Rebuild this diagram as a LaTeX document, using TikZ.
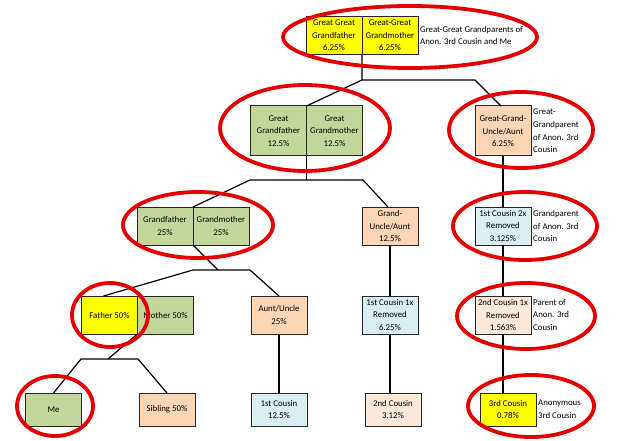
\documentclass[tikz,border=0pt]{standalone}
\usepackage{fontspec}
\setmainfont{Carlito}
\usetikzlibrary{positioning}
\definecolor{hiyel}{RGB}{255,255,0}
\definecolor{olivegrn}{RGB}{196,215,155}
\definecolor{peach}{RGB}{252,213,180}
\definecolor{palepeach}{RGB}{253,233,217}
\definecolor{iceblue}{RGB}{218,238,243}
\definecolor{ringred}{RGB}{228,0,0}

\begin{document}
\begin{tikzpicture}[
          x=1pt, y=-1pt,
          pers/.style={draw=black!85, line width=1pt, align=center, inner sep=1pt,
            outer sep=0pt, minimum width=56pt, font=\fontsize{8.8}{12.6}\selectfont},
          tall/.style={pers, minimum height=50pt},
          mid/.style={pers, minimum height=38pt},
          short/.style={pers, minimum height=33pt},
          note/.style={anchor=west, align=left, inner sep=2pt,
            font=\fontsize{8.8}{12.6}\selectfont},
          ring/.style={draw=ringred, line width=3.8pt},
          link/.style={draw=black, line width=1.2pt},
          node distance=0pt
        ]
        \useasboundingbox (0,0) rectangle (640,441);
        % great-great grandparents
        \node[mid, fill=hiyel] (ggfa) at (334,35.5) {Great Great\\Grandfather\\6.25\%};
        \node[mid, fill=hiyel] (ggmo) [right=of ggfa] {Great-Great\\Grandmother\\6.25\%};
        \node[note] (ggnote) [right=of ggmo] {Great-Great Grandparents of\\Anon. 3rd Cousin and Me};
        % great grandparents
        \node[tall, fill=olivegrn] (gfa) at (278.5,131) {Great\\Grandfather\\12.5\%};
        \node[tall, fill=olivegrn] (gmo) [right=of gfa] {Great\\Grandmother\\12.5\%};
        \node[tall, fill=peach] (ggua) at (503,131) {Great-Grand-\\Uncle/Aunt\\6.25\%};
        \node[note] (gguanote) [right=of ggua] {Great-\\Grandparent\\of Anon. 3rd\\Cousin};
        % grandparents
        \node[mid, fill=olivegrn] (gpa) at (165,226) {Grandfather\\25\%};
        \node[mid, fill=olivegrn] (gma) [right=of gpa] {Grandmother\\25\%};
        \node[mid, fill=peach] (gua) at (390,226) {Grand-\\Uncle/Aunt\\12.5\%};
        \node[mid, fill=iceblue] (cz2) at (503,226) {1st Cousin 2x\\Removed\\3.125\%};
        \node[note] (cz2note) [right=of cz2] {Grandparent\\of Anon. 3rd\\Cousin};
        % parents
        \node[mid, fill=hiyel] (dad) at (109.5,315) {Father 50\%};
        \node[mid, fill=olivegrn] (mom) [right=of dad] {Mother 50\%};
        \node[mid, fill=peach] (aunt) at (279,315) {Aunt/Uncle\\25\%};
        \node[mid, fill=iceblue] (cz1) at (390,315) {1st Cousin 1x\\Removed\\6.25\%};
        \node[mid, fill=palepeach] (scz1) at (503,315) {2nd Cousin 1x\\Removed\\1.563\%};
        \node[note] (scz1note) [right=of scz1] {Parent of\\Anon. 3rd\\Cousin};
        % my generation
        \node[short, fill=olivegrn] (me) at (53.5,409.5) {Me};
        \node[short, fill=peach] (sib) at (167,409.5) {Sibling 50\%};
        \node[short, fill=iceblue] (fc) at (279,409.5) {1st Cousin\\12.5\%};
        \node[short, fill=palepeach] (sc) at (393,409.5) {2nd Cousin\\3.12\%};
        \node[short, fill=hiyel] (tc) at (508,409.5) {3rd Cousin\\0.78\%};
        \node[note] (tcnote) [right=of tc] {Anonymous\\3rd Cousin};
        % tree lines
        \coordinate (j1) at (362,80);
        \coordinate (j1r) at (475,80);
        \draw[link] (ggfa.south east) -- (j1) -- (j1r) -- ([xshift=-2pt]ggua.north);
        \draw[link] (j1) -- (gfa.north east);
        \coordinate (j2l) at (250,180);
        \coordinate (j2r) at (363,180);
        \draw[link] (gfa.south east) -- (gfa.south east |- j2l);
        \draw[link] (gpa.north east) -- (j2l) -- (j2r) -- ([xshift=-2pt]gua.north);
        \coordinate (j3l) at (193,270);
        \coordinate (j3m) at (218,270);
        \coordinate (j3r) at (250,270);
        \draw[link] (gpa.south east) -- (j3m);
        \draw[link] ([xshift=-6pt]dad.north) -- (j3l) -- (j3r) -- (aunt.north);
        \coordinate (j4l) at (81,359);
        \coordinate (j4m) at (108,359);
        \coordinate (j4r) at (138,359);
        \draw[link] (dad.south east) -- (j4m);
        \draw[link] (me.north) -- (j4l) -- (j4r) -- (sib.north);
        \draw[link] (aunt) -- (fc);
        \draw[link] (gua) -- (cz1);
        \draw[link] (cz1.south) -- (cz1.south |- sc.north);
        \draw[link] (ggua) -- (cz2);
        \draw[link] (cz2) -- (scz1);
        \draw[link] (scz1.south) -- (scz1.south |- tc.north);
        % red rings
        \draw[ring] (410,37) ellipse [x radius=127pt, y radius=31pt];
        \draw[ring] (305,128) ellipse [x radius=85pt, y radius=43pt];
        \draw[ring] (521,130) ellipse [x radius=72pt, y radius=38pt];
        \draw[ring] (198,225) ellipse [x radius=75pt, y radius=33pt];
        \draw[ring] (525,226) ellipse [x radius=72pt, y radius=34pt];
        \draw[ring] (110,315) ellipse [x radius=38pt, y radius=32pt];
        \draw[ring] (526,316) ellipse [x radius=69pt, y radius=33pt];
        \draw[ring] (55,406) ellipse [x radius=38pt, y radius=30pt];
        \draw[ring] (531,406) ellipse [x radius=63pt, y radius=31pt];
      \end{tikzpicture}
\end{document}
